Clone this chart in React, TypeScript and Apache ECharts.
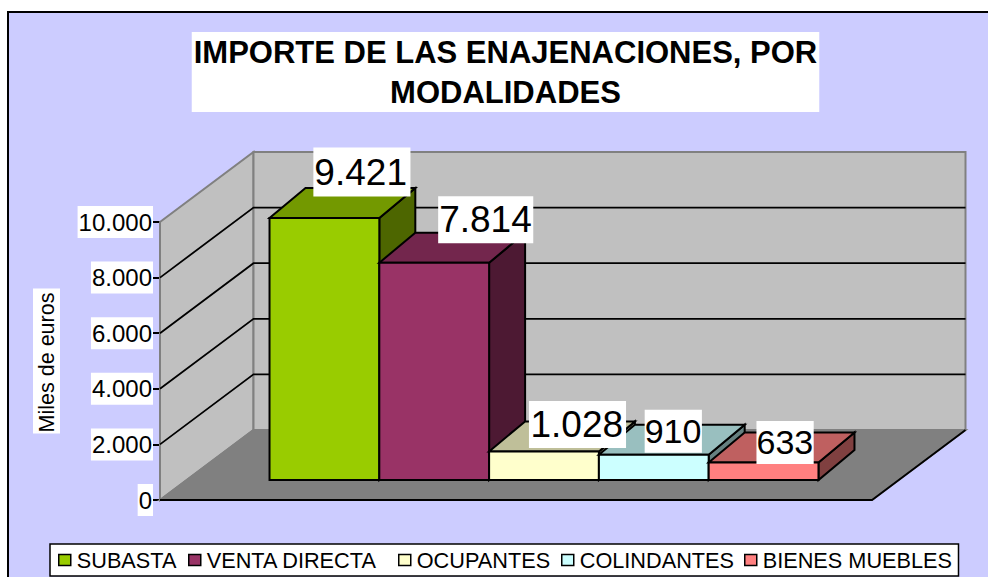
import React, { useEffect, useRef } from "react";
import * as echarts from "echarts";

const CHART_TITLE = "IMPORTE DE LAS ENAJENACIONES, POR\nMODALIDADES";
const Y_AXIS_NAME = "Miles de euros";
const CATEGORIES = ["Enajenaciones"];
const Y_TICKS = [0, 2000, 4000, 6000, 8000, 10000];

const SERIES_NAMES = ["SUBASTA", "VENTA DIRECTA", "OCUPANTES", "COLINDANTES", "BIENES MUEBLES"];
const SUBASTA = [9421];
const VENTA_DIRECTA = [7814];
const OCUPANTES = [1028];
const COLINDANTES = [910];
const BIENES_MUEBLES = [633];
const SERIES_VALUES = [SUBASTA, VENTA_DIRECTA, OCUPANTES, COLINDANTES, BIENES_MUEBLES];

const FRONT_COLORS = ["#99CC00", "#993366", "#FFFFCC", "#CCFFFF", "#FF8080"];
const TOP_COLORS = ["#739900", "#73264D", "#BFBF99", "#99BFBF", "#BF6060"];
const SIDE_COLORS = ["#4D6600", "#4D1933", "#808066", "#668080", "#804040"];

const LABEL_SIZES = [37, 37, 37, 34, 34];
const LABEL_OFFSETS = [[37.5, -46], [51.5, -43], [33.5, -27], [19.5, -23.5], [21.5, -20]];
const LABEL_PADS = [[6, 3.5, 6, 1], [5, 1.5, 5, 1], [5, 3, 5, 1.5], [4.5, 0.5, 4.5, 0], [4.5, 0.5, 4.5, 0]];
const LEGEND_LEFTS = [58, 188, 398, 561, 744];

const FONT = "Liberation Sans, Arial, sans-serif";
const WALL_DX = 93.5;
const WALL_DY = -70;
const BAR_FRONT_DX = 28;
const BAR_FRONT_DY = -20;
const BAR_DX = 36;
const BAR_DY = -30;

const fmt = (v: number) => String(v).replace(/\B(?=(\d{3})+$)/g, ".");

function renderWalls(params: any) {
  const r = params.coordSys;
  const x0 = r.x, x1 = r.x + r.width, yT = r.y, yB = r.y + r.height;
  const gray = "#808080";
  const poly = (points: number[][], fill: string) => ({
    type: "polygon", shape: { points }, style: { fill, stroke: gray, lineWidth: 2 },
  });
  return {
    type: "group",
    children: [
      poly([[x0, yB], [x0, yT], [x0 + WALL_DX, yT + WALL_DY], [x0 + WALL_DX, yB + WALL_DY]], "#C0C0C0"),
      poly([[x0 + WALL_DX, yB + WALL_DY], [x0 + WALL_DX, yT + WALL_DY], [x1 + WALL_DX, yT + WALL_DY], [x1 + WALL_DX, yB + WALL_DY]], "#C0C0C0"),
      poly([[x0, yB], [x0 + WALL_DX, yB + WALL_DY], [x1 + WALL_DX, yB + WALL_DY], [x1, yB]], "#808080"),
      { type: "polyline", shape: { points: [[x0, yB], [x1, yB], [x1 + WALL_DX, yB + WALL_DY]] }, style: { fill: "none", stroke: "#000", lineWidth: 1.8 } },
    ],
  };
}

function renderGrid(params: any, api: any) {
  const r = params.coordSys;
  const y = api.coord([0, api.value(1)])[1];
  return {
    type: "polyline",
    shape: { points: [[r.x, y], [r.x + WALL_DX, y + WALL_DY], [r.x + r.width + WALL_DX, y + WALL_DY]] },
    style: { fill: "none", stroke: "#000", lineWidth: 1.8 },
  };
}

const renderBar = (i: number) => (_params: any, api: any) => {
  const v = api.value(1);
  const band = api.size([1, 0])[0];
  const w = band * 0.1542;
  const top = api.coord([0, v]);
  const base = api.coord([0, 0]);
  const xL = top[0] + BAR_FRONT_DX - (w * SERIES_VALUES.length) / 2 + i * w;
  const xR = xL + w;
  const yT = top[1] + BAR_FRONT_DY;
  const yB = base[1] + BAR_FRONT_DY;
  const line = { stroke: "#000", lineWidth: 2 };
  return {
    type: "group",
    children: [
      { type: "polygon", shape: { points: [[xR, yT], [xR + BAR_DX, yT + BAR_DY], [xR + BAR_DX, yB + BAR_DY], [xR, yB]] }, style: { fill: SIDE_COLORS[i], ...line } },
      { type: "polygon", shape: { points: [[xL, yT], [xL + BAR_DX, yT + BAR_DY], [xR + BAR_DX, yT + BAR_DY], [xR, yT]] }, style: { fill: TOP_COLORS[i], ...line } },
      { type: "polygon", shape: { points: [[xL, yT], [xR, yT], [xR, yB], [xL, yB]] }, style: { fill: FRONT_COLORS[i], ...line } },
      {
        type: "text",
        z2: 100,
        x: (xL + xR) / 2 + LABEL_OFFSETS[i][0],
        y: yT + LABEL_OFFSETS[i][1],
        style: {
          text: fmt(v),
          fontFamily: FONT,
          fontSize: LABEL_SIZES[i],
          fill: "#000",
          align: "center",
          verticalAlign: "middle",
          backgroundColor: "#fff",
          padding: LABEL_PADS[i],
        },
      },
    ],
  };
};

export default function App() {
  const ref = useRef<HTMLDivElement>(null);
  useEffect(() => {
    document.body.style.margin = "0";
    const chart = echarts.init(ref.current!, null, { renderer: "svg" });
    chart.setOption({
      animation: false,
      backgroundColor: "#fff",
      textStyle: { fontFamily: FONT },
      title: {
        text: CHART_TITLE,
        left: 503.5,
        top: 32,
        backgroundColor: "#fff",
        padding: [0, 2, 0, 2],
        textAlign: "center",
        textStyle: { fontFamily: FONT, fontSize: 31, fontWeight: "bold", color: "#000", lineHeight: 40 },
      },
      graphic: [
        { type: "rect", z: -10, shape: { x: 8, y: 12, width: 990, height: 580 }, style: { fill: "#CCCCFF", stroke: "#000", lineWidth: 2 } },
        { type: "rect", z: -5, shape: { x: 50, y: 544, width: 908.5, height: 32 }, style: { fill: "#fff", stroke: "#000", lineWidth: 1.5 } },
      ],
      legend: SERIES_NAMES.map((name, i) => ({
        data: [name],
        left: LEGEND_LEFTS[i],
        top: 549,
        padding: 0,
        icon: "rect",
        itemWidth: 12,
        itemHeight: 11,
        itemStyle: { borderColor: "#000", borderWidth: 1.5 },
        selectedMode: false,
        textStyle: { fontFamily: FONT, fontSize: 21.7, color: "#000", padding: [13, 0, 0, 1] },
      })),
      grid: { left: 160, top: 222, width: 712, height: 278, containLabel: false },
      xAxis: { type: "category", data: CATEGORIES, show: false },
      yAxis: {
        type: "value",
        min: 0,
        max: 10000,
        interval: 2000,
        name: Y_AXIS_NAME,
        nameLocation: "middle",
        nameGap: 100,
        nameTextStyle: { fontFamily: FONT, fontSize: 21.5, color: "#000", backgroundColor: "#fff", padding: [2.5, 4, 2.5, 1] },
        axisLine: { show: true, lineStyle: { color: "#000", width: 2 } },
        axisTick: { show: true, length: 7, lineStyle: { color: "#000", width: 2 } },
        axisLabel: {
          formatter: (v: number) => fmt(v),
          fontFamily: FONT,
          fontSize: 24,
          color: "#000",
          margin: 7,
          backgroundColor: "#fff",
          padding: [7, 1, 1, 1],
        },
        splitLine: { show: false },
      },
      series: [
        { type: "custom", name: "walls", z: 1, silent: true, data: [[0, 0]], renderItem: renderWalls },
        { type: "custom", name: "grid", z: 1, silent: true, data: Y_TICKS.filter((t) => t > 0 && t < 10000).map((t) => [0, t]), renderItem: renderGrid },
        ...SERIES_NAMES.map((name, i) => ({
          type: "custom",
          name,
          z: 2,
          itemStyle: { color: FRONT_COLORS[i] },
          data: SERIES_VALUES[i].map((v) => [0, v]),
          renderItem: renderBar(i),
        })),
      ],
    });
    return () => chart.dispose();
  }, []);
  return <div ref={ref} style={{ position: "fixed", left: 0, top: 0, width: 988, height: 577 }} />;
}
